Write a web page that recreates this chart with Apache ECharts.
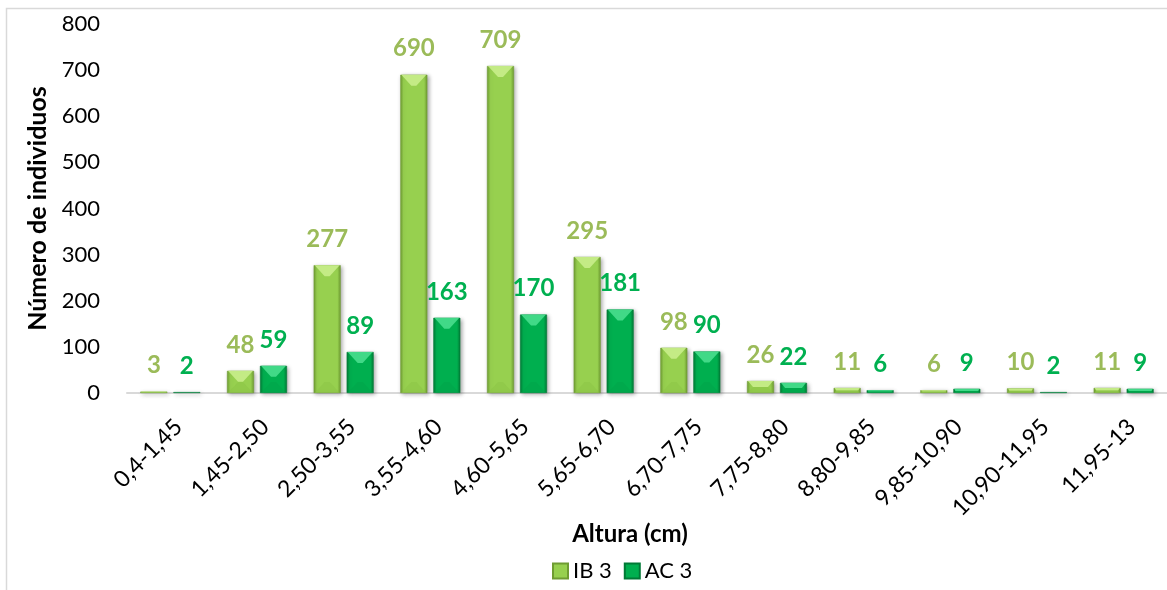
<!DOCTYPE html>
<html>
<head>
<meta charset="utf-8">
<script src="https://cdn.jsdelivr.net/npm/echarts@6/dist/echarts.min.js"></script>
<style>
  html, body { margin: 0; padding: 0; background: #fff; }
  #chart { width: 1167px; height: 590px; }
</style>
</head>
<body>
<div id="chart"></div>
<script>
// Height classes (cm)
const categories = ['0,4-1,45', '1,45-2,50', '2,50-3,55', '3,55-4,60', '4,60-5,65', '5,65-6,70',
  '6,70-7,75', '7,75-8,80', '8,80-9,85', '9,85-10,90', '10,90-11,95', '11,95-13'];
// Number of individuals per class
const ib3 = [3, 48, 277, 690, 709, 295, 98, 26, 11, 6, 10, 11];
const ac3 = [2, 59, 89, 163, 170, 181, 90, 22, 6, 9, 2, 9];
const yTicks = { min: 0, max: 800, interval: 100 };

const FONT = 'Lato';
const BAR_W = 27;
const BAR_GAP = 6;

const palette = {
  ib3: { body: '#97D04F', edge: '#6F9C32', light: '#C6EC88', dark: '#8CC346', label: '#9BBB59' },
  ac3: { body: '#00AF4F', edge: '#007A36', light: '#45DB8A', dark: '#00A349', label: '#00B050' }
};

function bodyColor(p) {
  return {
    type: 'linear', x: 0, y: 0, x2: 1, y2: 0,
    colorStops: [
      { offset: 0, color: p.edge },
      { offset: 0.12, color: p.body },
      { offset: 0.88, color: p.body },
      { offset: 1, color: p.edge }
    ]
  };
}

// Bevel facets drawn on top of each bar
function bevelRenderer(p, offset) {
  return function (params, api) {
    const idx = api.value(0);
    const v = api.value(1);
    const top = api.coord([idx, v]);
    const base = api.coord([idx, 0]);
    const cx = top[0] + offset;
    const x0 = cx - BAR_W / 2, x1 = cx + BAR_W / 2;
    const y0 = top[1], y1 = base[1];
    const h = y1 - y0;
    if (h < 1) return null;
    const b = Math.min(11, h / 2);
    return {
      type: 'group',
      children: [
        {
          type: 'polygon',
          shape: { points: [[x0 + 1, y0], [x1 - 1, y0], [x1 - b, y0 + b], [x0 + b, y0 + b]] },
          style: { fill: p.light, opacity: 0.95 }
        },
        {
          type: 'polygon',
          shape: { points: [[x0 + 1, y1], [x1 - 1, y1], [x1 - b, y1 - b], [x0 + b, y1 - b]] },
          style: { fill: p.dark, opacity: 0.5 }
        }
      ]
    };
  };
}

const chart = echarts.init(document.getElementById('chart'), null, { renderer: 'canvas' });

const labelStyle = (color) => ({
  show: true,
  position: 'top',
  distance: 14,
  fontFamily: FONT,
  fontSize: 24,
  fontWeight: 'bold',
  color: color
});

const barShadow = {
  shadowColor: 'rgba(0,0,0,0.35)',
  shadowBlur: 4,
  shadowOffsetX: 1.5,
  shadowOffsetY: 1.5
};

chart.setOption({
  animation: false,
  backgroundColor: '#ffffff',
  textStyle: { fontFamily: FONT },
  grid: { left: 127, top: 24, width: 1049, bottom: 197, containLabel: false },
  legend: {
    data: ['IB 3', 'AC 3'],
    bottom: 3,
    left: 547,
    icon: 'rect',
    itemWidth: 15,
    itemHeight: 15,
    itemGap: 12,
    textStyle: { fontFamily: FONT, fontSize: 22, color: '#000' }
  },
  xAxis: {
    type: 'category',
    data: categories,
    axisLine: { lineStyle: { color: '#D9D9D9', width: 2 } },
    axisTick: { show: false },
    axisLabel: {
      rotate: 45,
      margin: 22,
      interval: 0,
      verticalAlign: 'top',
      fontFamily: FONT,
      fontSize: 23,
      color: '#000'
    }
  },
  yAxis: {
    type: 'value',
    min: yTicks.min,
    max: yTicks.max,
    interval: yTicks.interval,
    name: 'Número de individuos',
    nameLocation: 'middle',
    nameGap: 74,
    nameTextStyle: { fontFamily: FONT, fontSize: 25, fontWeight: 'bold', color: '#000' },
    axisLine: { show: false },
    axisTick: { show: false },
    splitLine: { show: false },
    axisLabel: { margin: 27, fontFamily: FONT, fontSize: 22, color: '#000' }
  },
  graphic: [
    {
      type: 'rect',
      shape: { x: 6.5, y: 8.5, width: 1300, height: 700 },
      style: { fill: 'none', stroke: '#D9D9D9', lineWidth: 1.5 },
      silent: true, z: -10
    },
    {
      type: 'text',
      x: 630,
      y: 534,
      style: {
        text: 'Altura (cm)', fontFamily: FONT, fontSize: 24, fontWeight: 'bold', fill: '#000',
        align: 'center', verticalAlign: 'middle'
      }
    }
  ],
  series: [
    {
      name: 'IB 3',
      type: 'bar',
      data: ib3,
      barWidth: BAR_W,
      barGap: (BAR_GAP / BAR_W * 100).toFixed(1) + '%',
      itemStyle: Object.assign({ color: bodyColor(palette.ib3), borderColor: '#6F9C32', borderWidth: 0.5 }, barShadow),
      label: labelStyle(palette.ib3.label)
    },
    {
      name: 'AC 3',
      type: 'bar',
      data: ac3,
      barWidth: BAR_W,
      itemStyle: Object.assign({ color: bodyColor(palette.ac3), borderColor: '#007A36', borderWidth: 0.5 }, barShadow),
      label: labelStyle(palette.ac3.label)
    },
    {
      type: 'custom',
      silent: true,
      z: 3,
      renderItem: bevelRenderer(palette.ib3, -(BAR_W + BAR_GAP) / 2),
      data: ib3.map((v, i) => [i, v])
    },
    {
      type: 'custom',
      silent: true,
      z: 3,
      renderItem: bevelRenderer(palette.ac3, (BAR_W + BAR_GAP) / 2),
      data: ac3.map((v, i) => [i, v])
    }
  ]
});
</script>
</body>
</html>
